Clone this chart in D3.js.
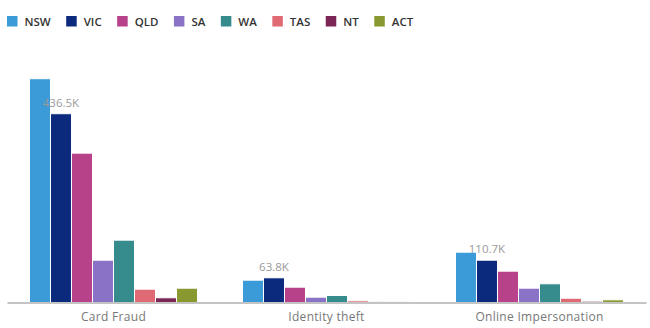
<!DOCTYPE html>
<html>
<head>
<meta charset="utf-8">
<script src="https://cdn.jsdelivr.net/npm/d3@7"></script>
<style>
  body { margin: 0; background: #fff; }
  svg { display: block; font-family: "Open Sans", sans-serif; }
</style>
</head>
<body>
<svg id="chart"></svg>
<script>
// data (values in thousands)
let categories = ["Card Fraud", "Identity theft", "Online Impersonation"];
let states = ["NSW", "VIC", "QLD", "SA", "WA", "TAS", "NT", "ACT"];
let colors = ["#3b9ad8", "#0b2a7d", "#b7428a", "#8a72c6", "#368b8d", "#e06a73", "#7b2456", "#8a992f"];

let cardFraud = [517.4, 436.5, 345.3, 97.8, 144.1, 30.8, 10.9, 33.1];
let identityTheft = [51.6, 57.1, 35.4, 12.3, 16.2, 3.9, 1.6, 1.6];
let onlineImpersonation = [116.3, 97.8, 72.4, 33.1, 43.3, 9.9, 3.0, 6.2];

// value labels shown above the VIC bars
let labelState = "VIC";
let labelTexts = ["436.5K", "63.8K", "110.7K"];

let svgW = 650, svgH = 328;

let series = [cardFraud, identityTheft, onlineImpersonation];
let data = categories.map(function (c, i) {
    return {
        category: c,
        label: labelTexts[i],
        values: states.map(function (s, j) {
            return { state: s, value: series[i][j], color: colors[j] };
        })
    };
});

let svg = d3.select("#chart")
    .attr("width", svgW)
    .attr("height", svgH);

//scales
let x0 = d3.scaleBand()
    .domain(categories)
    .range([7, 646])
    .paddingInner(0)
    .paddingOuter(0);

let x1 = d3.scaleBand()
    .domain(states)
    .range([0, x0.bandwidth()])
    .paddingInner(0)
    .paddingOuter(1.07);

let yScale = d3.scaleLinear()
    .domain([0, 600])
    .range([302.5, 43]);

let color = d3.scaleOrdinal()
    .domain(states)
    .range(colors);

// bars
let groups = svg.selectAll("g.group")
    .data(data)
    .enter()
    .append("g")
    .attr("class", "group")
    .attr("transform", function (d) {
        return "translate(" + x0(d.category) + ",0)";
    });

groups.selectAll("rect")
    .data(function (d) { return d.values; })
    .enter()
    .append("rect")
    .attr("x", function (d) { return x1(d.state); })
    .attr("y", function (d) { return yScale(d.value); })
    .attr("width", x1.bandwidth())
    .attr("height", function (d) { return yScale(0) - yScale(d.value); })
    .attr("fill", function (d) { return color(d.state); })
    .attr("stroke", "#fff")
    .attr("stroke-width", 1);

// value labels
groups.append("text")
    .attr("x", x1(labelState) + x1.bandwidth() / 2)
    .attr("y", function (d) {
        let v = d.values.find(function (e) { return e.state === labelState; }).value;
        return yScale(v) - 7;
    })
    .attr("text-anchor", "middle")
    .style("font-size", "11.5px")
    .style("fill", "#9a9a9a")
    .text(function (d) { return d.label; });

// x axis
let xAxis = d3.axisBottom(x0)
    .tickSize(0)
    .tickPadding(10);

let axisG = svg.append("g")
    .attr("class", "x axis")
    .attr("transform", "translate(0," + yScale(0) + ")")
    .call(xAxis);

axisG.select(".domain")
    .attr("stroke", "#8a8a8a")
    .attr("stroke-width", 1.2);

axisG.selectAll("text")
    .style("font-family", "Open Sans, sans-serif")
    .style("font-size", "12px")
    .style("letter-spacing", "0.3px")
    .style("fill", "#777");

// legend
let legend = svg.append("g").attr("class", "legend");
let lx = 7;
states.forEach(function (s) {
    let item = legend.append("g").attr("transform", "translate(" + lx + ",16)");
    item.append("rect")
        .attr("width", 10.5)
        .attr("height", 10.5)
        .attr("fill", color(s));
    let t = item.append("text")
        .attr("x", 17.5)
        .attr("y", 9.8)
        .style("font-size", "11.5px")
        .style("font-weight", 600)
        .style("fill", "#333")
        .text(s);
    lx += 17.5 + t.node().getComputedTextLength() + 15.5;
});
</script>
</body>
</html>
